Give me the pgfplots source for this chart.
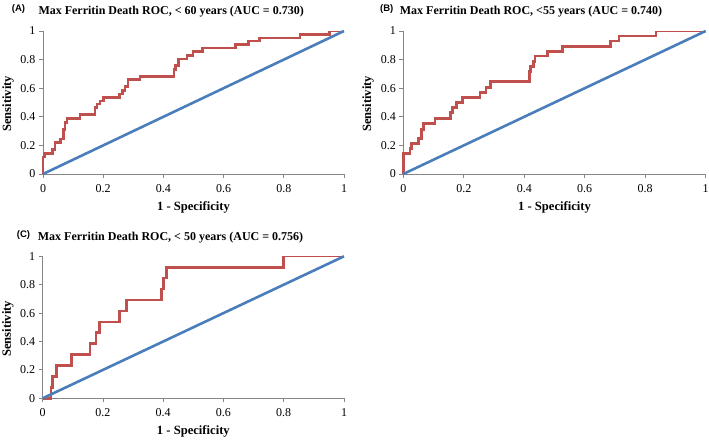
\documentclass[border=0pt]{standalone}
\usepackage{fontspec}
\setmainfont{Liberation Serif}
\newfontfamily\sansfont{Liberation Sans}
\usepackage{pgfplots}
\pgfplotsset{compat=1.18}
\definecolor{rocred}{HTML}{C0504D}
\definecolor{rocblue}{HTML}{4A7EBB}
\definecolor{axgray}{HTML}{868686}
\newcommand{\titlefont}{\bfseries\fontsize{12bp}{14bp}\selectfont}
\newcommand{\labelfont}{\bfseries\fontsize{12.6bp}{14bp}\selectfont}
\newcommand{\tagfont}{\sansfont\bfseries\fontsize{9.5bp}{11bp}\selectfont}
\pgfplotsset{rocstyle/.style={
  scale only axis, clip=false,
  xmin=0, xmax=1, ymin=0, ymax=1,
  axis x line*=bottom, axis y line*=left,
  axis line style={axgray, line width=0.8bp},
  xtick={0,0.2,0.4,0.6,0.8,1}, ytick={0,0.2,0.4,0.6,0.8,1},
  tick style={axgray, line width=0.8bp},
  tick align=outside, major tick length=4bp,
  /pgf/number format/assume math mode=true,
  tick label style={font=\fontsize{12bp}{14bp}\selectfont, text=black},
  xticklabel style={yshift=-3bp},
  xlabel={1 - Specificity}, ylabel={Sensitivity},
  label style={font=\labelfont},
  xlabel style={at={(axis description cs:0.5,-0.234)}, anchor=center},
  ylabel style={at={(axis description cs:-0.116,0.49)}, anchor=center},
  every axis plot/.append style={line width=2.6bp},
}}
\begin{document}
\begin{tikzpicture}
\path[use as bounding box] (0,0) rectangle (709bp,448bp);
% Panel A
\begin{axis}[rocstyle, at={(43bp,274bp)}, anchor=south west, width=301bp, height=143bp]
\addplot[rocred] coordinates {(0,0)(0,0.12)(0.005,0.12)(0.005,0.145)(0.032,0.145)(0.032,0.17)(0.04,0.17)(0.04,0.22)(0.058,0.22)(0.058,0.245)(0.068,0.245)(0.068,0.31)(0.073,0.31)(0.073,0.36)(0.08,0.36)(0.08,0.39)(0.123,0.39)(0.123,0.415)(0.173,0.415)(0.173,0.465)(0.18,0.465)(0.18,0.49)(0.19,0.49)(0.19,0.51)(0.2,0.51)(0.2,0.535)(0.254,0.535)(0.254,0.56)(0.265,0.56)(0.265,0.585)(0.272,0.585)(0.272,0.61)(0.283,0.61)(0.283,0.66)(0.322,0.66)(0.322,0.68)(0.435,0.68)(0.435,0.73)(0.44,0.73)(0.44,0.76)(0.45,0.76)(0.45,0.805)(0.478,0.805)(0.478,0.83)(0.498,0.83)(0.498,0.855)(0.53,0.855)(0.53,0.88)(0.64,0.88)(0.64,0.905)(0.683,0.905)(0.683,0.93)(0.72,0.93)(0.72,0.95)(0.854,0.95)(0.854,0.975)(0.951,0.975)(0.951,1)};
\addplot[rocred, line width=0.8bp] coordinates {(0.951,1)(1,1)};
\addplot[rocblue] coordinates {(0,0)(1,1)};
\end{axis}
% Panel B
\begin{axis}[rocstyle, at={(403.3bp,274bp)}, anchor=south west, width=302.4bp, height=143bp]
\addplot[rocred] coordinates {(0,0)(0,0.145)(0.022,0.145)(0.022,0.18)(0.028,0.18)(0.028,0.215)(0.05,0.215)(0.05,0.25)(0.061,0.25)(0.061,0.31)(0.066,0.31)(0.066,0.355)(0.105,0.355)(0.105,0.39)(0.157,0.39)(0.157,0.43)(0.163,0.43)(0.163,0.465)(0.176,0.465)(0.176,0.5)(0.196,0.5)(0.196,0.535)(0.254,0.535)(0.254,0.57)(0.273,0.57)(0.273,0.605)(0.289,0.605)(0.289,0.645)(0.417,0.645)(0.417,0.715)(0.421,0.715)(0.421,0.75)(0.43,0.75)(0.43,0.785)(0.435,0.785)(0.435,0.825)(0.476,0.825)(0.476,0.857)(0.526,0.857)(0.526,0.893)(0.686,0.893)(0.686,0.93)(0.713,0.93)(0.713,0.965)(0.835,0.965)(0.835,1)};
\addplot[rocred, line width=0.8bp] coordinates {(0.835,1)(1,1)};
\addplot[rocblue] coordinates {(0,0)(1,1)};
\end{axis}
% Panel C
\begin{axis}[rocstyle, at={(42.7bp,49.7bp)}, anchor=south west, width=301.3bp, height=142bp]
\addplot[rocred] coordinates {(0,0)(0.027,0)(0.027,0.077)(0.033,0.077)(0.033,0.154)(0.045,0.154)(0.045,0.231)(0.096,0.231)(0.096,0.308)(0.157,0.308)(0.157,0.385)(0.177,0.385)(0.177,0.462)(0.188,0.462)(0.188,0.538)(0.255,0.538)(0.255,0.615)(0.279,0.615)(0.279,0.692)(0.395,0.692)(0.395,0.769)(0.4,0.769)(0.4,0.846)(0.41,0.846)(0.41,0.923)(0.799,0.923)(0.799,1)};
\addplot[rocred, line width=0.8bp] coordinates {(0.799,1)(1,1)};
\addplot[rocblue] coordinates {(0,0)(1,1)};
\end{axis}
% Titles
\node[anchor=base west, inner sep=0, font=\tagfont] at (11.7bp,436.7bp) {(A)};
\node[anchor=base west, inner sep=0, font=\titlefont] at (38.3bp,433.3bp) {Max Ferritin Death ROC, < 60 years (AUC = 0.730)};
\node[anchor=base west, inner sep=0, font=\tagfont] at (380bp,436.7bp) {(B)};
\node[anchor=base west, inner sep=0, font=\titlefont] at (399.7bp,433.3bp) {Max Ferritin Death ROC, <55 years (AUC = 0.740)};
\node[anchor=base west, inner sep=0, font=\tagfont] at (16.7bp,210.5bp) {(C)};
\node[anchor=base west, inner sep=0, font=\titlefont] at (37.7bp,207.3bp) {Max Ferritin Death ROC, < 50 years (AUC = 0.756)};
\end{tikzpicture}
\end{document}
